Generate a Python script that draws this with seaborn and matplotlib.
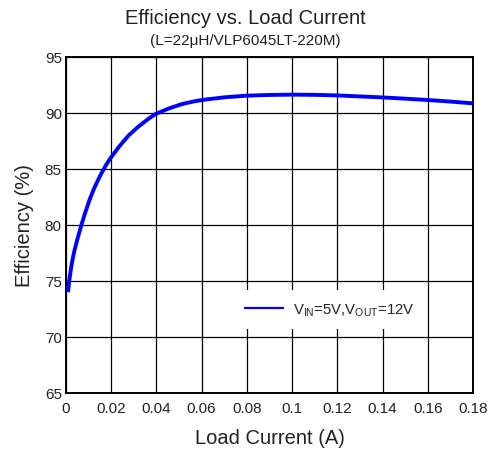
import matplotlib
matplotlib.use("Agg")
import matplotlib.pyplot as plt
import seaborn as sns
import pandas as pd

# ---- data ----
load_current = [0.0009, 0.0014, 0.0025, 0.0036, 0.0050, 0.0068, 0.0085, 0.0105,
                0.0125, 0.0145, 0.0163, 0.0180, 0.0198, 0.0233, 0.0277, 0.0321,
                0.0366, 0.0395, 0.0454, 0.0513, 0.0572, 0.0616, 0.07, 0.08,
                0.09, 0.10, 0.11, 0.12, 0.13, 0.14, 0.15, 0.16, 0.17, 0.18]
efficiency = [74.0, 75.0, 76.5, 77.6, 78.7, 80.0, 81.1, 82.3,
              83.3, 84.15, 84.85, 85.45, 86.0, 86.95, 88.0, 88.8,
              89.5, 89.9, 90.4, 90.8, 91.06, 91.2, 91.4, 91.55,
              91.61, 91.64, 91.62, 91.57, 91.48, 91.39, 91.28, 91.16, 91.02, 90.86]
series_label = r"V$_{\mathrm{IN}}$=5V,V$_{\mathrm{OUT}}$=12V"
x_ticks = [0, 0.02, 0.04, 0.06, 0.08, 0.1, 0.12, 0.14, 0.16, 0.18]
x_tick_labels = ["0", "0.02", "0.04", "0.06", "0.08", "0.1", "0.12", "0.14", "0.16", "0.18"]
y_ticks = [65, 70, 75, 80, 85, 90, 95]

sns.set_style("white")
plt.rcParams["font.family"] = ["Liberation Sans", "DejaVu Sans"]
plt.rcParams["mathtext.fontset"] = "custom"
plt.rcParams["mathtext.rm"] = "Liberation Sans"
plt.rcParams["mathtext.it"] = "Liberation Sans:italic"
plt.rcParams["mathtext.bf"] = "Liberation Sans:bold"

df = pd.DataFrame({"Load Current (A)": load_current, "Efficiency (%)": efficiency,
                   "series": series_label})

fig = plt.figure(figsize=(4.91, 4.52), dpi=100)
ax = fig.add_axes([66 / 491, 1 - 394 / 452, (473 - 66) / 491, (394 - 58) / 452])

sns.lineplot(data=df, x="Load Current (A)", y="Efficiency (%)", hue="series",
             palette=["#0000ff"], linewidth=2.8, ax=ax, zorder=3,
             solid_joinstyle="round", solid_capstyle="butt")

ax.set_xlim(0, 0.18)
ax.set_ylim(65, 95)
ax.set_xticks(x_ticks)
ax.set_xticklabels(x_tick_labels)
ax.set_yticks(y_ticks)
ax.grid(True, color="black", linewidth=0.9)
ax.tick_params(axis="both", length=0, labelsize=11, colors="#222222")
ax.tick_params(axis="x", pad=6)
ax.tick_params(axis="y", pad=3)
for s in ax.spines.values():
    s.set_color("black")
    s.set_linewidth(1.4)

ax.set_xlabel("Load Current (A)", fontsize=14.5, color="#222222", labelpad=9)
ax.set_ylabel("Efficiency (%)", fontsize=14.5, color="#222222", labelpad=8)

fig.text(0.5, 1 - 19 / 452, "Efficiency vs. Load Current", ha="center", va="center",
         fontsize=14.5, color="#222222")
fig.text(0.5, 1 - 41 / 452, "(L=22\u03bcH/VLP6045LT-220M)", ha="center", va="center",
         fontsize=11, color="#222222")

handles, labels = ax.get_legend_handles_labels()
for h in handles:
    h.set_linewidth(1.6)
leg = ax.legend(handles, labels, loc="center", bbox_to_anchor=(0.647, 0.248),
                frameon=True, fontsize=10.7, handlelength=2.7, handletextpad=0.6,
                borderpad=0.75, framealpha=1)
leg.get_frame().set_facecolor("white")
leg.get_frame().set_edgecolor("none")
leg.get_frame().set_boxstyle("square", pad=0)
for t in leg.get_texts():
    t.set_color("#222222")

fig.savefig("out.png", dpi=100)
